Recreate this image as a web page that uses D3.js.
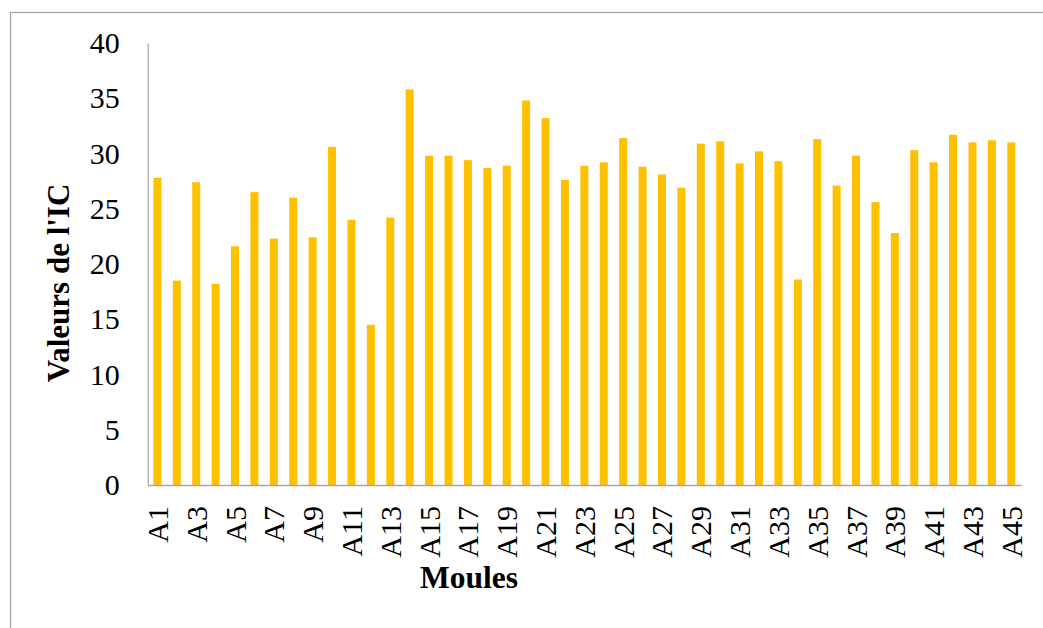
<!DOCTYPE html>
<html>
<head>
<meta charset="utf-8">
<script src="https://cdn.jsdelivr.net/npm/d3@7"></script>
<style>
  html, body { margin: 0; padding: 0; background: #fff; }
  svg { display: block; }
  svg text { font-family: "Liberation Serif", "Times New Roman", Times, "DejaVu Serif", serif; }
</style>
</head>
<body>
<svg id="chart" width="1043" height="628"></svg>
<script>
// Condition index (IC) per mussel, A1..A45
const categories = d3.range(1, 46).map(i => "A" + i);
const icValues = [
  27.8, 18.5, 27.4, 18.2, 21.6, 26.5, 22.3, 26.0, 22.4, 30.6,
  24.0, 14.5, 24.2, 35.8, 29.8, 29.8, 29.4, 28.7, 28.9, 34.8,
  33.2, 27.6, 28.9, 29.2, 31.4, 28.8, 28.1, 26.9, 30.9, 31.1,
  29.1, 30.2, 29.3, 18.6, 31.3, 27.1, 29.8, 25.6, 22.8, 30.3,
  29.2, 31.7, 31.0, 31.2, 31.0
];
const yTicks = [0, 5, 10, 15, 20, 25, 30, 35, 40];
const xTickLabels = categories.filter((c, i) => i % 2 === 0);

const svg = d3.select("#chart");

// outer frame
svg.append("rect")
  .attr("x", 10.5).attr("y", 12.5)
  .attr("width", 1100).attr("height", 700)
  .attr("fill", "none").attr("stroke", "#a6a6a6").attr("stroke-width", 1.2);

const plotLeft = 147.7, plotRight = 1021, plotTop = 43, plotBottom = 485;

const x = d3.scaleBand()
  .domain(categories)
  .range([plotLeft, plotRight])
  .paddingInner(0.588)
  .paddingOuter(0.294);

const y = d3.scaleLinear().domain([0, 40]).range([plotBottom, plotTop]);

// bars
svg.append("g")
  .selectAll("rect")
  .data(icValues)
  .join("rect")
  .attr("x", (d, i) => x(categories[i]))
  .attr("y", d => y(d))
  .attr("width", x.bandwidth())
  .attr("height", d => y(0) - y(d))
  .attr("fill", "#FFC000");

// y axis
const yAxis = svg.append("g")
  .attr("transform", `translate(${plotLeft},0)`)
  .call(d3.axisLeft(y).tickValues(yTicks).tickSize(0).tickPadding(28));
yAxis.attr("font-family", null);
yAxis.select(".domain").attr("stroke", "#a6a6a6").attr("stroke-width", 1.2);
yAxis.selectAll("text")
  .attr("font-size", 30).attr("fill", "#000");

// x axis
const xAxis = svg.append("g")
  .attr("transform", `translate(0,${plotBottom})`)
  .call(d3.axisBottom(x).tickValues(xTickLabels).tickSize(0).tickSizeOuter(0));
xAxis.attr("font-family", null);
xAxis.select(".domain").attr("stroke", "#a6a6a6").attr("stroke-width", 1.5);
xAxis.selectAll("text")
  .attr("font-size", 30).attr("fill", "#000")
  .attr("text-anchor", "end")
  .attr("transform", "rotate(-90)")
  .attr("x", -21)
  .attr("y", 0)
  .attr("dy", "0.35em");

// axis titles
svg.append("text")
  .attr("transform", "translate(69,283) rotate(-90)")
  .attr("text-anchor", "middle")
  .attr("font-size", 31).attr("font-weight", "bold")
  .text("Valeurs de l'IC");

svg.append("text")
  .attr("x", 469).attr("y", 588)
  .attr("text-anchor", "middle")
  .attr("font-size", 31.5).attr("font-weight", "bold")
  .text("Moules");
</script>
</body>
</html>
